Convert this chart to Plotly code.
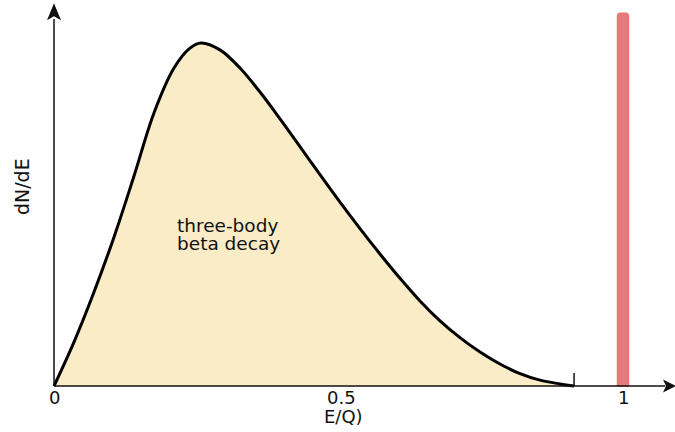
import plotly.graph_objects as go

# Continuous three-body beta spectrum (energy as a fraction of Q, arbitrary rate units)
energy_frac = [0.0, 0.0351, 0.0703, 0.1054, 0.1406, 0.1757, 0.2109, 0.239, 0.2583,
               0.2917, 0.3269, 0.3620, 0.3972, 0.4323, 0.4675, 0.5026, 0.5378, 0.5729,
               0.6081, 0.6432, 0.6784, 0.7135, 0.7487, 0.7838, 0.8190, 0.8541, 0.8893, 0.914]
dn_de = [0.0, 0.128, 0.274, 0.434, 0.612, 0.796, 0.927, 0.985, 1.0,
         0.980, 0.927, 0.857, 0.779, 0.698, 0.616, 0.536, 0.459, 0.385,
         0.314, 0.248, 0.190, 0.141, 0.099, 0.064, 0.036, 0.017, 0.006, 0.0]

# Mono-energetic line at the endpoint (two-body decay)
line_x = [1.0]
line_height = [1.087]

# Endpoint of the continuous spectrum
endpoint = 0.914

tick_vals = [0, 0.5, 1]
tick_text = ["0", "0.5", "1"]
x_title = "E/Q)"
y_title = "dN/dE"
curve_label = ["three-body", "beta decay"]

FONT = "DejaVu Sans"
INK = "#111111"

fig = go.Figure()

fig.add_trace(go.Scatter(
    x=energy_frac, y=dn_de, mode="lines",
    line=dict(color="black", width=3, shape="spline", smoothing=1.0),
    fill="tozeroy", fillcolor="rgb(250,236,198)",
    hoverinfo="skip", showlegend=False,
))

fig.add_trace(go.Bar(
    x=line_x, y=line_height, width=0.0193,
    marker=dict(color="rgb(222,126,126)", line=dict(color="rgb(240,116,116)", width=1.5)),
    hoverinfo="skip", showlegend=False,
))

shapes = [
    # y axis with arrowhead
    dict(type="line", xref="x", yref="y", x0=0, x1=0, y0=0, y1=1.07,
         line=dict(color=INK, width=1.5), layer="above"),
    dict(type="path", xref="x", yref="y", xsizemode="pixel", ysizemode="pixel",
         xanchor=0, yanchor=1.1157, path="M0,0 L-7,-17 L0,-13 L7,-17 Z",
         fillcolor=INK, line=dict(width=0), layer="above"),
    # x axis with arrowhead
    dict(type="line", xref="x", yref="y", x0=0, x1=1.074, y0=0, y1=0,
         line=dict(color=INK, width=1.5), layer="above"),
    dict(type="path", xref="x", yref="y", xsizemode="pixel", ysizemode="pixel",
         xanchor=1.0931, yanchor=0, path="M0,0 L-13,6.5 L-10,0 L-13,-6.5 Z",
         fillcolor=INK, line=dict(width=0), layer="above"),
    # endpoint tick
    dict(type="line", xref="x", yref="y", x0=endpoint, x1=endpoint, y0=0, y1=0.038,
         line=dict(color=INK, width=1.5), layer="above"),
]

annotations = []
for v, t in zip(tick_vals, tick_text):
    annotations.append(dict(x=v, y=-0.034, xref="x", yref="y", text=t, showarrow=False,
                            xanchor="center", yanchor="middle",
                            xshift=3 if v == 0.5 else 0,
                            font=dict(family=FONT, size=18, color=INK)))
annotations.append(dict(x=0.5, y=-0.089, xref="x", yref="y", text=x_title, showarrow=False,
                        xanchor="center", yanchor="middle", xshift=5,
                        font=dict(family=FONT, size=18, color=INK)))
annotations.append(dict(x=-0.0562, y=0.58, xref="x", yref="y", text=y_title, showarrow=False,
                        textangle=-90, xanchor="center", yanchor="middle",
                        font=dict(family=FONT, size=19, color=INK)))
for i, t in enumerate(curve_label):
    annotations.append(dict(x=0.2127, y=0.468 - 0.0525 * i, xref="x", yref="y", text=t,
                            showarrow=False, xanchor="left", yanchor="middle",
                            font=dict(family=FONT, size=18.5, color=INK)))

fig.update_layout(
    width=675, height=432,
    margin=dict(l=0, r=0, t=0, b=0),
    paper_bgcolor="white", plot_bgcolor="white",
    xaxis=dict(range=[-54 / 569, 621 / 569], visible=False, fixedrange=True),
    yaxis=dict(range=[-46 / 343, 386 / 343], visible=False, fixedrange=True),
    barcornerradius=3,
    shapes=shapes, annotations=annotations,
    showlegend=False,
)

fig.write_html("out.html")
